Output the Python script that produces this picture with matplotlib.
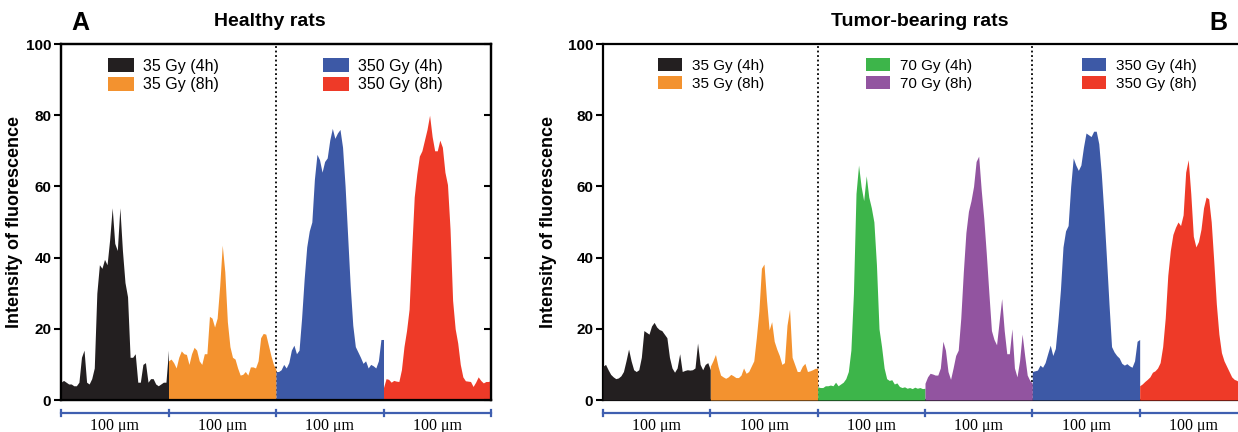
import numpy as np
import matplotlib
matplotlib.use("Agg")
import matplotlib.pyplot as plt
from matplotlib.patches import Patch

plt.rcParams['font.family'] = ['Liberation Sans', 'DejaVu Sans']

# ==========================================
# data: fluorescence profiles, each one spans 100 um
# ==========================================
healthy_labels = ["35 Gy (4h)", "35 Gy (8h)", "350 Gy (4h)", "350 Gy (8h)"]
healthy_colors = ["#231f20", "#f3922f", "#3d59a6", "#ee3a28"]

h_35_4h = [5, 5.5, 5, 4.5, 4.5, 4, 4, 5, 12, 14, 5, 4.5, 6, 9, 30, 38, 37, 39.5, 38, 45,
           54, 44, 42, 54, 42, 33, 29, 12, 12, 13, 5, 5, 10, 10.5, 5, 6, 6, 4.5, 4, 4.5,
           5, 5, 14]
h_35_8h = [11, 11.5, 10.5, 9, 12, 13.8, 13, 12.8, 10, 13, 14.8, 14, 11, 10, 13, 13, 23.5, 23,
           20.5, 23, 32, 43.5, 36, 22, 15, 12, 11.5, 9, 7, 7.2, 8, 7, 9.3, 9.3, 9, 11, 17.5,
           18.7, 18.5, 15.5, 12.5, 10, 8.5]
h_350_4h = [8, 8, 8.5, 10, 9, 10.5, 14, 15.4, 13, 14, 23, 34, 43, 47.5, 50, 62, 69, 67.5, 64,
            67, 68, 73, 76.3, 73.5, 75, 76, 71, 60, 46, 32, 21, 15, 13.5, 12, 10.3, 11, 9, 10,
            9.6, 9, 11, 17, 17]
h_350_8h = [3.5, 6, 5.8, 5, 5.5, 5.3, 5.2, 8.5, 15, 19.5, 25.5, 42, 57, 63.5, 68.5, 70, 73, 76,
            80, 74, 70, 70, 73, 71, 64, 60.5, 48, 28, 20, 16, 10, 6.5, 5.4, 5.3, 5.2, 3.8, 5,
            6.5, 5.5, 4.8, 5.2, 5.2, 5.5]

tumor_labels = ["35 Gy (4h)", "35 Gy (8h)", "70 Gy (4h)", "70 Gy (8h)", "350 Gy (4h)", "350 Gy (8h)"]
tumor_colors = ["#231f20", "#f3922f", "#3db54a", "#9254a0", "#3d59a6", "#ee3a28"]

t_35_4h = [9.5, 10, 8.5, 7.2, 6.5, 6, 6.2, 6.8, 8, 11, 14.3, 11, 8.5, 8, 8.5, 12, 19.5, 19,
           18.5, 20.8, 21.8, 20.5, 19.8, 19.5, 18.5, 17.5, 12, 9, 7.8, 9, 13, 8, 8.3, 8.5, 8.4,
           8.5, 9, 16, 10, 8.5, 10, 10.5, 8.5]
t_35_8h = [9.5, 11, 12.8, 9.5, 7, 6.5, 6.1, 6.5, 7.2, 6.8, 6.3, 6.3, 7, 9, 7.5, 8, 9.5, 11,
           17.5, 25, 37, 38.2, 28, 19.7, 22, 16.5, 14.3, 12.5, 10, 10.5, 21, 25.5, 12, 10, 8,
           8, 9.5, 10.3, 8, 8.2, 8.5, 8.9, 8.9]
t_70_4h = [3.7, 3.5, 3.5, 4, 4, 4.2, 4, 5, 4, 4.5, 5, 6, 8, 14, 30, 58, 66, 60, 56, 63, 57,
           54, 50, 38, 20, 15, 9, 6, 5.5, 5.7, 4.5, 4.8, 3.8, 3.5, 3.7, 3.3, 3.5, 3.2, 3.6,
           3.3, 3.5, 3.2, 3.3]
t_70_8h = [4.7, 6.5, 7.5, 7.3, 7, 7, 9, 16.5, 14, 8, 5.8, 9, 12.5, 14, 23, 36, 47, 53, 56,
           60, 67, 68.5, 59, 51, 41, 30, 19.5, 17, 15.5, 22, 28.5, 19.5, 13, 13, 20, 9, 6.5,
           11, 18.5, 12.5, 7, 5.5, 4.7]
t_350_4h = [8, 8.2, 8.4, 9.8, 9.2, 10.5, 13, 15.4, 12.5, 14.5, 22, 31, 43, 47.5, 49, 60, 68,
            66, 64.5, 66, 71, 75, 74.5, 74, 75.5, 75.5, 72, 63.5, 52.5, 40, 27, 15, 13.5, 12.5,
            11.8, 10.3, 9.8, 10.2, 9.6, 9.2, 11, 16.5, 17]
t_350_8h = [4, 4.5, 5.2, 5.8, 6.5, 7.8, 8.2, 9, 10.5, 15, 23, 35, 42, 46.5, 48.5, 50, 49, 52,
            64, 67.5, 58, 46, 43, 44.5, 48, 54, 57, 56.5, 50, 39, 27, 18.5, 13.3, 11, 9.5, 8,
            6.5, 5.8, 5.5, 5, 4.8, 4.5, 4.5]

healthy_profiles = [h_35_4h, h_35_8h, h_350_4h, h_350_8h]
tumor_profiles = [t_35_4h, t_35_8h, t_70_4h, t_70_8h, t_350_4h, t_350_8h]

seg_width = 100  # um per profile
bar_color = "#3f5fb0"

fig = plt.figure(figsize=(12.38, 4.32), dpi=100)
axA = fig.add_axes([61 / 1238, 32 / 432, 430 / 1238, 356 / 432])
axB = fig.add_axes([603 / 1238, 32 / 432, 644 / 1238, 356 / 432])


def draw_panel(ax, profiles, colors, dividers):
    for i, (vals, c) in enumerate(zip(profiles, colors)):
        x = np.linspace(i * seg_width, (i + 1) * seg_width, len(vals))
        ax.fill_between(x, 0, vals, color=c, lw=0, zorder=3)
    for d in dividers:
        ax.axvline(d, color='black', ls=(0, (1, 1.5)), lw=1.3, zorder=1)
    n = len(profiles)
    ax.set_xlim(0, n * seg_width)
    ax.set_ylim(0, 100)
    ax.set_xticks([])
    ax.set_yticks(np.arange(0, 101, 20))
    ax.tick_params(axis='y', direction='out', length=5, width=1.5, labelsize=11, pad=2)
    for lab in ax.get_yticklabels():
        lab.set_fontweight('bold')
    for s in ax.spines.values():
        s.set_linewidth(1.6)
    ax.text(-0.107 if n == 4 else -0.0854, 0.5, "Intensity of fluorescence", rotation=90,
            ha='center', va='center', fontsize=13, fontweight='bold', transform=ax.transAxes)
    # scale bar under each profile
    trans = ax.get_xaxis_transform()
    ax.plot([0, n * seg_width], [-0.037, -0.037], color=bar_color, lw=1.6,
            transform=trans, clip_on=False)
    for i in range(n + 1):
        ax.plot([i * seg_width, i * seg_width], [-0.045, -0.029], color=bar_color, lw=1.6,
                transform=trans, clip_on=False)
    for i in range(n):
        ax.text((i + 0.5) * seg_width, -0.073, "100 \u03bcm", ha='center', va='center',
                fontsize=11.5, family='Liberation Serif', transform=trans)


draw_panel(axA, healthy_profiles, healthy_colors, [200])
draw_panel(axB, tumor_profiles, tumor_colors, [200, 400])

# inward ticks on the right side of panel A
axA2 = axA.twinx()
axA2.set_ylim(0, 100)
axA2.set_yticks(np.arange(0, 101, 20))
axA2.set_yticklabels([])
axA2.tick_params(axis='y', direction='in', length=5, width=1.5)
for s in axA2.spines.values():
    s.set_linewidth(1.6)


def add_legend(ax, idx, labels, colors, x0, fs):
    handles = [Patch(facecolor=colors[k], edgecolor='none', label=labels[k]) for k in idx]
    leg = ax.legend(handles=handles, loc='upper left', bbox_to_anchor=(x0, 0.96),
                    frameon=False, fontsize=fs, handlelength=1.6, handleheight=0.95,
                    handletextpad=0.6, labelspacing=0.2, borderpad=0, borderaxespad=0)
    ax.add_artist(leg)
    ax.legend_ = None


add_legend(axA, [0, 1], healthy_labels, healthy_colors, (108 - 61) / 430, 11.5)
add_legend(axA, [2, 3], healthy_labels, healthy_colors, (323 - 61) / 430, 11.5)
add_legend(axB, [0, 1], tumor_labels, tumor_colors, (658 - 603) / 644, 11)
add_legend(axB, [2, 3], tumor_labels, tumor_colors, (866 - 603) / 644, 11)
add_legend(axB, [4, 5], tumor_labels, tumor_colors, (1082 - 603) / 644, 11)

fig.text(270 / 1238, 1 - 22 / 432, "Healthy rats", ha='center', va='center',
         fontsize=14, fontweight='bold')
fig.text(920 / 1238, 1 - 22 / 432, "Tumor-bearing rats", ha='center', va='center',
         fontsize=14, fontweight='bold')
fig.text(80 / 1238, 1 - 23 / 432, "A", ha='center', va='center', fontsize=18, fontweight='bold')
fig.text(1218 / 1238, 1 - 23 / 432, "B", ha='center', va='center', fontsize=18, fontweight='bold')

fig.savefig("out.png", dpi=100)
